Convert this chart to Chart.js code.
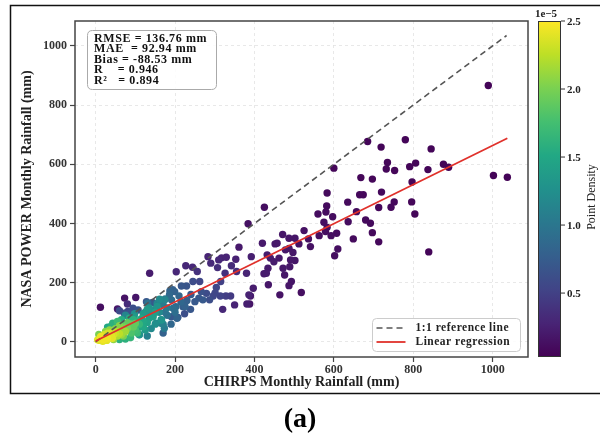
<!DOCTYPE html>
<html>
<head>
<meta charset="utf-8">
<script src="https://cdn.jsdelivr.net/npm/chart.js@4.4.0/dist/chart.umd.min.js"></script>
<style>
  html, body { margin: 0; padding: 0; background: #fff; }
</style>
</head>
<body>
<canvas id="c" width="600" height="439"></canvas>
<script>
// CHIRPS (x) vs NASA POWER (y) monthly rainfall, mm, and point density (x1e-5)
const chirps = [
  989, 685, 719, 780, 845, 600, 668, 697, 735, 732, 753, 791, 806, 837, 876, 889, 1002, 1037, 797, 583,
  665, 674, 720, 752, 796, 713, 744, 804, 692, 697, 713, 839, 425, 582, 560, 580, 597, 635, 657, 680,
  636, 575, 583, 579, 607, 593, 563, 525, 536, 512, 541, 649, 610, 602,
  471, 487, 502, 420, 452, 457, 487, 497, 392, 432, 440, 449, 462, 478, 491, 502, 489, 472, 434, 424,
  476, 493, 487, 435, 464, 518, 397, 390, 388, 384, 430,
  136, 203, 227, 244, 283, 290, 310, 317, 329, 353, 361, 342, 307, 256, 326, 355, 380, 320, 350, 381, 386,
  315, 304, 301, 296, 314, 328, 340,
  12, 55, 73, 101, 80,
  245, 262, 216, 229, 266, 279, 270, 287, 260, 250, 239, 224, 207, 191, 220, 81, 94, 107, 128, 143, 60, 72, 85,
  191, 195, 199, 187, 186, 194, 202, 200, 215, 230, 210, 240, 180, 190, 175, 205, 225, 131, 170,
  174, 161, 145, 166, 150, 155, 130, 120, 135, 140, 125, 150, 160, 165, 170, 155, 175, 135, 150, 170,
  140, 110, 125, 180, 152, 165, 173, 106, 110, 97, 98, 75, 130,
  105, 110, 95, 115, 120, 85, 40, 55, 30, 65, 100, 75, 60, 90, 120, 130, 105, 88, 43, 55, 64,
  50, 65, 70, 60, 75, 80, 35, 25, 55, 65, 85, 90, 70, 8, 45, 95, 100, 80,
  10, 15, 20, 25, 30, 35, 40, 22, 45, 50, 12, 28, 55, 38, 60, 18, 42, 5, 13, 30
];
const nasa = [
  866, 677, 658, 683, 652, 587, 555, 550, 606, 584, 579, 592, 604, 582, 600, 590, 562, 556, 540, 503,
  497, 497, 506, 473, 473, 454, 455, 432, 401, 369, 338, 304, 455, 459, 432, 439, 423, 472, 440, 412,
  406, 404, 387, 373, 367, 359, 359, 376, 348, 331, 322, 348, 314, 291,
  363, 350, 350, 333, 331, 333, 316, 302, 288, 294, 283, 271, 283, 311, 277, 275, 254, 249, 249, 230,
  226, 204, 190, 193, 159, 167, 181, 155, 128, 399, 232,
  232, 237, 257, 252, 288, 266, 277, 284, 286, 279, 320, 257, 251, 238, 232, 238, 232, 110, 125, 128, 159,
  204, 184, 165, 155, 155, 155, 155,
  117, 111, 148, 150, 128,
  204, 204, 189, 189, 170, 164, 142, 142, 148, 136, 110, 95, 83, 85, 119, 103, 114, 108, 136, 133, 105, 97, 97,
  142, 114, 170, 172, 159, 176, 119, 100, 135, 140, 155, 160, 90, 60, 100, 80, 120, 131, 30,
  142, 144, 85, 74, 100, 120, 110, 95, 80, 95, 100, 110, 100, 75, 125, 130, 145, 115, 60, 60,
  45, 25, 40, 115, 63, 63, 46, 46, 24, 85, 95, 90, 20,
  70, 60, 75, 78, 70, 80, 55, 65, 50, 75, 40, 10, 8, 30, 50, 65, 30, 15, 63, 69, 57,
  45, 40, 50, 55, 35, 45, 40, 35, 20, 25, 55, 60, 20, 25, 8, 50, 62, 65,
  5, 10, 8, 15, 12, 20, 18, 25, 25, 30, 15, 5, 35, 30, 28, 2, 12, 7, 18, 29
];
const density = [
  0.05, 0.06, 0.06, 0.06, 0.06, 0.07, 0.07, 0.07, 0.07, 0.07, 0.07, 0.06, 0.06, 0.06, 0.06, 0.06, 0.05, 0.05, 0.07, 0.09,
  0.08, 0.08, 0.08, 0.08, 0.07, 0.08, 0.08, 0.07, 0.09, 0.09, 0.08, 0.06, 0.12, 0.10, 0.11, 0.11, 0.11, 0.09, 0.10, 0.09,
  0.11, 0.12, 0.12, 0.12, 0.11, 0.12, 0.13, 0.14, 0.14, 0.15, 0.14, 0.10, 0.12, 0.12,
  0.18, 0.18, 0.17, 0.20, 0.19, 0.19, 0.19, 0.19, 0.24, 0.22, 0.22, 0.22, 0.20, 0.19, 0.19, 0.18, 0.19, 0.20, 0.21, 0.21,
  0.18, 0.17, 0.17, 0.18, 0.16, 0.13, 0.22, 0.20, 0.17, 0.14, 0.22,
  0.22, 0.30, 0.30, 0.30, 0.28, 0.32, 0.30, 0.28, 0.28, 0.26, 0.20, 0.33, 0.36, 0.38, 0.38, 0.34, 0.28, 0.30, 0.28, 0.24, 0.26,
  0.50, 0.55, 0.55, 0.55, 0.52, 0.48, 0.45,
  0.12, 0.20, 0.16, 0.18, 0.35,
  0.60, 0.55, 0.70, 0.68, 0.65, 0.60, 0.72, 0.62, 0.70, 0.72, 0.70, 0.62, 0.66, 0.72, 0.75, 0.55, 0.62, 0.66, 0.70, 0.72, 0.60, 0.62, 0.65,
  0.90, 0.92, 0.80, 0.82, 0.86, 0.78, 0.88, 0.92, 0.85, 0.78, 0.84, 0.72, 0.95, 0.85, 0.98, 0.82, 0.80, 0.95, 0.80,
  1.15, 1.20, 1.40, 1.30, 1.40, 1.30, 1.35, 1.35, 1.40, 1.30, 1.30, 1.25, 1.20, 1.25, 1.05, 1.15, 1.00, 1.30, 1.25, 1.10,
  1.20, 1.30, 1.35, 1.05, 1.20, 1.10, 1.05, 1.40, 1.30, 1.35, 1.25, 1.15, 1.10,
  1.60, 1.65, 1.60, 1.50, 1.50, 1.55, 1.55, 1.65, 1.50, 1.55, 1.75, 1.60, 1.60, 1.80, 1.50, 1.45, 1.70, 1.65, 1.60, 1.70, 1.80,
  2.05, 2.10, 2.00, 2.05, 2.15, 2.00, 2.10, 2.05, 2.20, 2.15, 1.90, 1.90, 2.00, 2.00, 2.10, 1.90, 1.90, 1.90,
  2.40, 2.45, 2.45, 2.45, 2.45, 2.40, 2.40, 2.35, 2.35, 2.30, 2.45, 2.40, 2.25, 2.35, 2.25, 2.40, 2.40, 2.40, 2.45, 2.35
];

// reference lines
const oneToOneX = [0, 1035];
const oneToOneY = [0, 1035];
const regressionX = [0, 1037];
const regressionY = [3, 688];

// ticks
const xTicks = [0, 200, 400, 600, 800, 1000];
const yTicks = [0, 200, 400, 600, 800, 1000];
const cbTicks = [0.5, 1.0, 1.5, 2.0, 2.5];
const cbMin = 0.03, cbMax = 2.5;

const statsLines = [
  'RMSE = 136.76 mm',
  'MAE  = 92.94 mm',
  'Bias = -88.53 mm',
  'R    = 0.946',
  'R\u00B2   = 0.894'
];

const SERIF = "'Liberation Serif', 'Times New Roman', serif";

// viridis colormap stops
const VIRIDIS = ['#440154', '#482475', '#414487', '#355f8d', '#2a788e', '#21918c',
                 '#22a884', '#44bf70', '#7ad151', '#bddf26', '#fde725'];

function hexToRgb(h) {
  return [parseInt(h.slice(1, 3), 16), parseInt(h.slice(3, 5), 16), parseInt(h.slice(5, 7), 16)];
}

function viridis(t) {
  t = Math.max(0, Math.min(1, t));
  const p = t * (VIRIDIS.length - 1);
  const i = Math.min(Math.floor(p), VIRIDIS.length - 2);
  const f = p - i;
  const a = hexToRgb(VIRIDIS[i]), b = hexToRgb(VIRIDIS[i + 1]);
  const c = a.map((v, k) => Math.round(v + (b[k] - v) * f));
  return `rgb(${c[0]}, ${c[1]}, ${c[2]})`;
}

// points sorted so the densest are drawn last
const points = chirps.map((x, i) => ({ x: x, y: nasa[i], d: density[i] }))
  .sort((a, b) => a.d - b.d);

function roundRect(ctx, x, y, w, h, r) {
  ctx.beginPath();
  ctx.moveTo(x + r, y);
  ctx.lineTo(x + w - r, y);
  ctx.quadraticCurveTo(x + w, y, x + w, y + r);
  ctx.lineTo(x + w, y + h - r);
  ctx.quadraticCurveTo(x + w, y + h, x + w - r, y + h);
  ctx.lineTo(x + r, y + h);
  ctx.quadraticCurveTo(x, y + h, x, y + h - r);
  ctx.lineTo(x, y + r);
  ctx.quadraticCurveTo(x, y, x + r, y);
  ctx.closePath();
}

// extras: spines, stats box, legend, colorbar, figure frame, panel label
const extras = {
  id: 'extras',
  afterDraw(chart) {
    const ctx = chart.ctx;
    const a = chart.chartArea;
    ctx.save();

    // spines
    ctx.strokeStyle = '#444';
    ctx.lineWidth = 1.5;
    ctx.strokeRect(a.left, a.top, a.right - a.left, a.bottom - a.top);

    // stats box
    roundRect(ctx, a.left + 12.5, a.top + 9.5, 129, 59, 5);
    ctx.fillStyle = 'rgba(255,255,255,0.85)';
    ctx.fill();
    ctx.strokeStyle = '#aaa';
    ctx.lineWidth = 1;
    ctx.stroke();
    ctx.fillStyle = '#111';
    ctx.font = `bold 12px ${SERIF}`;
    ctx.letterSpacing = '0.6px';
    ctx.textBaseline = 'middle';
    ctx.textAlign = 'left';
    statsLines.forEach((s, i) => ctx.fillText(s, a.left + 19, a.top + 17.5 + i * 10.6));

    // legend
    const lx = a.right - 155.5, ly = a.bottom - 38.5;
    roundRect(ctx, lx, ly, 148, 33, 4);
    ctx.fillStyle = 'rgba(255,255,255,0.85)';
    ctx.fill();
    ctx.strokeStyle = '#ccc';
    ctx.lineWidth = 1;
    ctx.stroke();
    ctx.lineWidth = 1.6;
    ctx.strokeStyle = '#555';
    ctx.setLineDash([6, 4]);
    ctx.beginPath(); ctx.moveTo(lx + 4, ly + 9.5); ctx.lineTo(lx + 33, ly + 9.5); ctx.stroke();
    ctx.setLineDash([]);
    ctx.strokeStyle = '#e0312b';
    ctx.lineWidth = 1.8;
    ctx.beginPath(); ctx.moveTo(lx + 4, ly + 23.5); ctx.lineTo(lx + 33, ly + 23.5); ctx.stroke();
    ctx.fillStyle = '#222';
    ctx.font = `bold 11.5px ${SERIF}`;
    ctx.letterSpacing = '0.5px';
    ctx.fillText('1:1 reference line', lx + 43, ly + 10);
    ctx.fillText('Linear regression', lx + 43, ly + 24);
    ctx.letterSpacing = '0px';

    // colorbar
    const cl = a.right + 10, cr = cl + 23, ct = a.top, cbm = a.bottom;
    const g = ctx.createLinearGradient(0, cbm, 0, ct);
    VIRIDIS.forEach((c, i) => g.addColorStop(i / (VIRIDIS.length - 1), c));
    ctx.fillStyle = g;
    ctx.fillRect(cl, ct, cr - cl, cbm - ct);
    ctx.strokeStyle = '#333';
    ctx.lineWidth = 1;
    ctx.strokeRect(cl + 0.5, ct + 0.5, cr - cl - 1, cbm - ct - 1);
    ctx.fillStyle = '#222';
    ctx.font = `bold 11px ${SERIF}`;
    ctx.textAlign = 'left';
    cbTicks.forEach(v => {
      const y = cbm - (v - cbMin) / (cbMax - cbMin) * (cbm - ct);
      ctx.beginPath(); ctx.moveTo(cr, y); ctx.lineTo(cr + 4, y); ctx.stroke();
      ctx.fillText(v.toFixed(1), cr + 6, y + 1);
    });
    ctx.textAlign = 'center';
    ctx.fillText('1e\u22125', cl + 8, ct - 7);
    ctx.save();
    ctx.translate(cr + 31, (ct + cbm) / 2 + 8);
    ctx.rotate(-Math.PI / 2);
    ctx.font = `12px ${SERIF}`;
    ctx.fillText('Point Density', 0, 0);
    ctx.restore();

    // figure frame
    ctx.strokeStyle = '#111';
    ctx.lineWidth = 1.5;
    ctx.strokeRect(10.5, 5.5, 600, 388);

    // panel label
    ctx.fillStyle = '#000';
    ctx.font = `bold 28px ${SERIF}`;
    ctx.textAlign = 'center';
    ctx.fillText('(a)', 300, 420);

    ctx.restore();
  }
};

const gridOpts = { color: '#e2e2e2', lineWidth: 0.8, tickColor: '#444', tickLength: 5, tickWidth: 1.2 };
const tickFont = { family: SERIF, weight: 'bold', size: 12 };
const titleFont = { family: SERIF, weight: 'bold', size: 14 };

new Chart(document.getElementById('c'), {
  type: 'scatter',
  data: {
    datasets: [
      {
        type: 'line',
        label: '1:1 reference line',
        data: oneToOneX.map((x, i) => ({ x: x, y: oneToOneY[i] })),
        borderColor: '#555',
        borderWidth: 1.6,
        borderDash: [6, 4],
        pointRadius: 0,
        fill: false,
        order: 1
      },
      {
        type: 'line',
        label: 'Linear regression',
        data: regressionX.map((x, i) => ({ x: x, y: regressionY[i] })),
        borderColor: '#e0312b',
        borderWidth: 1.8,
        pointRadius: 0,
        fill: false,
        order: 0
      },
      {
        label: 'Points',
        data: points,
        pointRadius: 3.7,
        pointBorderWidth: 0,
        backgroundColor: c => (c.raw ? viridis((c.raw.d - cbMin) / (cbMax - cbMin)) : '#440154'),
        order: 2
      }
    ]
  },
  options: {
    responsive: false,
    animation: false,
    layout: { padding: { left: 0, right: 72, top: 21, bottom: 47 } },
    plugins: {
      legend: { display: false },
      tooltip: { enabled: false }
    },
    scales: {
      x: {
        type: 'linear',
        min: -52,
        max: 1089,
        afterBuildTicks: s => { s.ticks = xTicks.map(v => ({ value: v })); },
        afterFit: s => { s.height = 35; },
        grid: gridOpts,
        border: { display: false, dash: [3, 3] },
        ticks: { font: tickFont, color: '#333', padding: 1, maxRotation: 0, callback: v => String(v) },
        title: { display: true, text: 'CHIRPS Monthly Rainfall (mm)', font: titleFont, color: '#222', padding: { top: 0, bottom: 1 } }
      },
      y: {
        type: 'linear',
        min: -51,
        max: 1084,
        afterBuildTicks: s => { s.ticks = yTicks.map(v => ({ value: v })); },
        afterFit: s => { s.width = 75; },
        grid: gridOpts,
        border: { display: false, dash: [3, 3] },
        ticks: { font: tickFont, color: '#333', padding: 3, callback: v => String(v) },
        title: { display: true, text: 'NASA POWER Monthly Rainfall (mm)', font: titleFont, color: '#222', padding: { top: 19, bottom: 0 } }
      }
    }
  },
  plugins: [extras]
});
</script>
</body>
</html>
